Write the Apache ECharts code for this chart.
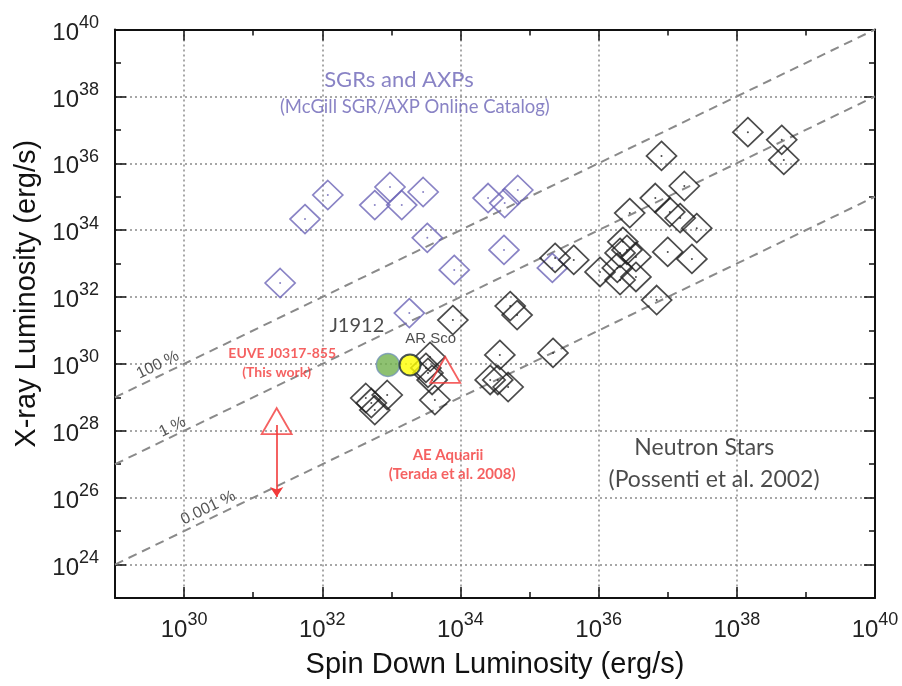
<!DOCTYPE html>
<html><head><meta charset="utf-8">
<script src="https://cdn.jsdelivr.net/npm/echarts@6/dist/echarts.min.js"></script>
<style>html,body{margin:0;padding:0;background:#fff}#c{width:902px;height:686px}</style>
</head><body><div id="c"></div>
<script>
// All values are log10 of luminosity in erg/s
const xMajor = [30, 32, 34, 36, 38];
const yMajor = [24, 26, 28, 30, 32, 34, 36, 38];

// SGRs and AXPs: [log Lsd, log Lx]
const sgrAxp = [
  [31.39, 32.42], [31.75, 34.33], [32.08, 35.05], [32.76, 34.75], [32.98, 35.29],
  [33.15, 34.75], [33.46, 35.14], [33.52, 33.77], [33.91, 32.81], [33.26, 31.52],
  [34.40, 34.96], [34.64, 34.81], [34.83, 35.20], [34.63, 33.41], [35.33, 32.87]
];

// Neutron stars (Possenti et al. 2002)
const neutronStars = [
  [38.16, 36.93], [38.65, 36.70], [38.68, 36.10], [36.91, 36.22], [37.24, 35.32],
  [36.82, 34.96], [36.45, 34.51], [37.03, 34.54], [37.18, 34.36], [37.42, 34.06],
  [36.35, 33.65], [36.41, 33.41], [36.31, 33.32], [36.54, 33.20], [37.00, 33.35],
  [37.35, 33.14], [36.02, 32.75], [36.27, 32.87], [36.31, 32.51], [36.54, 32.60],
  [36.84, 31.91], [35.37, 33.17], [35.64, 33.11], [34.72, 31.73], [34.82, 31.46],
  [34.57, 30.27], [34.43, 29.52], [34.54, 29.52], [34.69, 29.31], [35.34, 30.33],
  [33.89, 31.31], [33.56, 30.21], [33.53, 29.73], [33.59, 29.52], [33.50, 29.88],
  [33.63, 28.92], [32.63, 28.98], [32.94, 29.07], [32.76, 28.62], [32.71, 28.83]
];

const aeAquarii = [[33.78, 29.82]];
const euve = [[31.34, 28.29]];
const euveArrow = [[31.34, 28.17], [31.34, 26.02]];
const j1912 = [[32.95, 29.97]];
const arSco = [[33.27, 29.97]];

// Efficiency lines: Lx = eff * Lsd
const effLines = [
  { name: '100 %', offset: 0 },
  { name: '1 %', offset: -2 },
  { name: '0.001 %', offset: -5 }
];
const effLineX = [29, 40];

// Text annotations
const annTexts = ['SGRs and AXPs', '(McGill SGR/AXP Online Catalog)', 'J1912', 'AR Sco',
  'EUVE J0317-855', '(This work)', 'AE Aquarii', '(Terada et al. 2008)',
  'Neutron Stars', '(Possenti et al. 2002)', '100 %', '1 %', '0.001 %'];
const annAnchors = [[33.11, 38.49], [33.34, 37.68], [32.50, 31.16], [33.57, 30.74],
  [31.42, 30.32], [31.34, 29.73], [33.82, 27.28], [33.88, 26.71],
  [37.53, 27.49], [37.67, 26.53], [29.62, 29.97], [29.83, 28.11], [30.35, 25.69]];

const BLUE = '#6b64b6', BLACK = '#1e1e1e', RED = '#f23a3a', GRID = '#8a8a8a';
const tickFont = 'Liberation Sans, Arial, sans-serif';
const annFont = 'Lato, Carlito, "Open Sans", sans-serif';

const annStyles = [
  { color: BLUE, fontSize: 22, fontFamily: annFont },
  { color: BLUE, fontSize: 18.5, fontFamily: annFont },
  { color: BLACK, fontSize: 20, fontFamily: annFont },
  { color: BLACK, fontSize: 15, fontFamily: tickFont },
  { color: RED, fontSize: 14, fontWeight: 'bold', fontFamily: annFont },
  { color: RED, fontSize: 14, fontWeight: 'bold', fontFamily: annFont },
  { color: RED, fontSize: 15, fontWeight: 'bold', fontFamily: annFont },
  { color: RED, fontSize: 15, fontWeight: 'bold', fontFamily: annFont },
  { color: BLACK, fontSize: 23, fontFamily: annFont },
  { color: BLACK, fontSize: 23, fontFamily: annFont },
  { color: '#2a2a2a', fontSize: 16, fontFamily: tickFont, rotate: 26 },
  { color: '#2a2a2a', fontSize: 16, fontFamily: tickFont, rotate: 26 },
  { color: '#2a2a2a', fontSize: 16, fontFamily: tickFont, rotate: 26 }
];

const rich = {
  b: { fontSize: 24, fontFamily: tickFont, color: '#222', verticalAlign: 'bottom' },
  s: { fontSize: 18, fontFamily: tickFont, color: '#222', verticalAlign: 'top', padding: [0, 0, 13, 0] }
};
function powLabel(v) {
  const r = Math.round(v);
  return (r % 2 === 0) ? '{b|10}{s|' + r + '}' : '';
}

const axisLine = { show: true, onZero: false, lineStyle: { color: '#111', width: 2 } };
const tickStyle = { color: '#111', width: 1.5 };
const dotted = { show: true, lineStyle: { color: GRID, type: [2, 3], width: 1.5 } };

function xAx(pos, main) {
  return {
    type: 'value', min: 29, max: 40, position: pos,
    interval: main ? 1 : undefined,
    axisLine: main ? axisLine : { show: false },
    axisTick: main ? { show: true, inside: true, length: 6, lineStyle: tickStyle }
                   : { show: true, inside: true, length: 11, customValues: xMajor, lineStyle: tickStyle },
    axisLabel: (main && pos === 'bottom') ? { show: true, formatter: powLabel, margin: 13, rich: rich, showMaxLabel: true } : { show: false },
    splitLine: (!main && pos === 'bottom') ? dotted : { show: false }
  };
}
function yAx(pos, main) {
  return {
    type: 'value', min: 23, max: 40, position: pos,
    interval: main ? 1 : undefined,
    axisLine: main ? axisLine : { show: false },
    axisTick: main ? { show: true, inside: true, length: 6, lineStyle: tickStyle }
                   : { show: true, inside: true, length: 11, customValues: yMajor, lineStyle: tickStyle },
    axisLabel: (main && pos === 'left') ? { show: true, formatter: powLabel, margin: 16, rich: rich, showMaxLabel: true } : { show: false },
    splitLine: (!main && pos === 'left') ? dotted : { show: false }
  };
}

const xAxes = [xAx('bottom', true), xAx('bottom', false), xAx('top', true), xAx('top', false)];
xAxes[0].name = 'Spin Down Luminosity (erg/s)';
xAxes[0].nameLocation = 'middle';
xAxes[0].nameGap = 52;
xAxes[0].nameTextStyle = { fontSize: 29, fontFamily: tickFont, color: '#111' };
const yAxes = [yAx('left', true), yAx('left', false), yAx('right', true), yAx('right', false)];
yAxes[0].name = 'X-ray Luminosity (erg/s)';
yAxes[0].nameLocation = 'middle';
yAxes[0].nameGap = 62;
yAxes[0].nameTextStyle = { fontSize: 29, fontFamily: tickFont, color: '#111', padding: [0, 0, 0, 40] };

function diamondSeries(data, color) {
  return [{
    type: 'scatter', data: data, symbol: 'diamond', symbolSize: [30, 29], z: 4,
    itemStyle: { color: 'rgba(0,0,0,0)', borderColor: color, borderWidth: 1.7 }
  }, {
    type: 'scatter', data: data, symbol: 'circle', symbolSize: 2, z: 4,
    itemStyle: { color: color }
  }];
}

const series = [];
effLines.forEach(function (e) {
  series.push({
    type: 'line', data: effLineX.map(function (x) { return [x, x + e.offset]; }),
    symbol: 'none', silent: true, z: 2,
    lineStyle: { color: '#8a8a8a', width: 2, type: [9, 6] }
  });
});
series.push.apply(series, diamondSeries(sgrAxp, BLUE));
series.push.apply(series, diamondSeries(neutronStars, BLACK));
series.push({
  type: 'scatter', data: j1912, symbol: 'circle', symbolSize: 23, z: 5,
  itemStyle: { color: '#72b24e', borderColor: '#7394b8', borderWidth: 1.5 }
});
series.push({
  type: 'scatter', data: arSco, symbol: 'circle', symbolSize: 21, z: 5,
  itemStyle: { color: '#ffff00', borderColor: '#1c2b3a', borderWidth: 2 }
});
series.push({
  type: 'scatter', data: aeAquarii.concat(euve), symbol: 'triangle', symbolSize: [30, 26], z: 6,
  itemStyle: { color: 'rgba(0,0,0,0)', borderColor: RED, borderWidth: 1.8 },
  markLine: {
    silent: true, symbol: ['none', 'arrow'], symbolSize: 10, label: { show: false },
    lineStyle: { color: RED, width: 1.6, type: 'solid' },
    data: [[{ coord: euveArrow[0] }, { coord: euveArrow[1] }]]
  }
});
series.push({
  type: 'scatter', symbolSize: 1, silent: true, z: 7,
  itemStyle: { color: 'rgba(0,0,0,0)' },
  data: annTexts.map(function (t, i) {
    const st = annStyles[i];
    return {
      value: annAnchors[i],
      label: Object.assign({ show: true, position: 'inside', formatter: t, align: 'center', verticalAlign: 'middle' }, st)
    };
  })
});

const chart = echarts.init(document.getElementById('c'), null, { renderer: 'canvas' });
chart.setOption({
  animation: false,
  backgroundColor: '#fff',
  grid: { left: 115, right: 27, top: 29.5, bottom: 88, containLabel: false },
  xAxis: xAxes,
  yAxis: yAxes,
  series: series
});
</script></body></html>
